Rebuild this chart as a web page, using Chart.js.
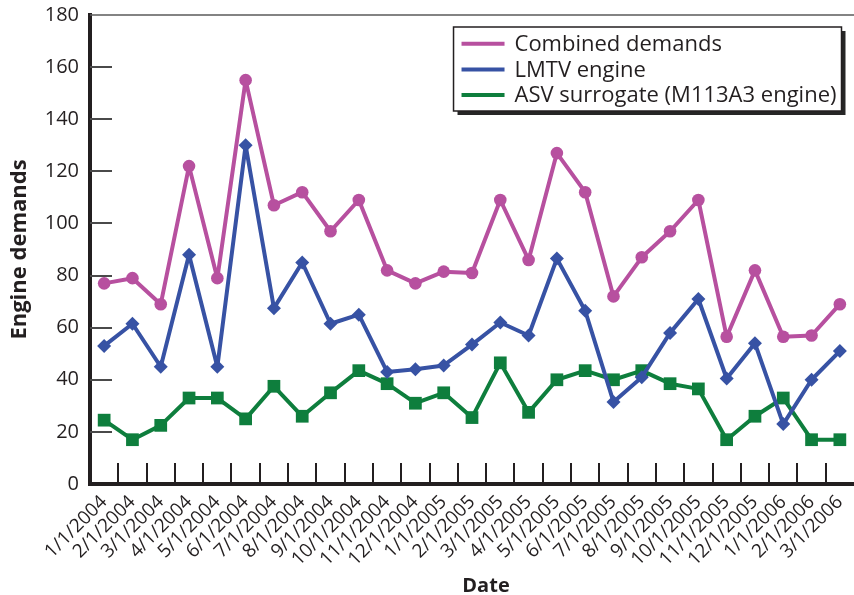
<!DOCTYPE html>
<html>
<head>
<meta charset="utf-8">
<script src="https://cdn.jsdelivr.net/npm/chart.js@4/dist/chart.umd.min.js"></script>
<style>
  html, body { margin: 0; padding: 0; background: #ffffff; }
  #wrap { width: 854px; height: 595px; }
</style>
</head>
<body>
<div id="wrap"><canvas id="chart" width="854" height="595"></canvas></div>
<script>
// Monthly engine demands, January 2004 through March 2006
const dates = [
  '1/1/2004', '2/1/2004', '3/1/2004', '4/1/2004', '5/1/2004', '6/1/2004',
  '7/1/2004', '8/1/2004', '9/1/2004', '10/1/2004', '11/1/2004', '12/1/2004',
  '1/1/2005', '2/1/2005', '3/1/2005', '4/1/2005', '5/1/2005', '6/1/2005',
  '7/1/2005', '8/1/2005', '9/1/2005', '10/1/2005', '11/1/2005', '12/1/2005',
  '1/1/2006', '2/1/2006', '3/1/2006'
];
const combinedDemands = [77, 79, 69, 122, 79, 155, 107, 112, 97, 109, 82, 77, 81.5, 81, 109, 86, 127, 112, 72, 87, 97, 109, 56.5, 82, 56.5, 57, 69];
const lmtvEngine = [53, 61.5, 45, 88, 45, 130, 67.5, 85, 61.5, 65, 43, 44, 45.5, 53.5, 62, 57, 86.5, 66.5, 31.5, 41, 58, 71, 40.5, 54, 23, 40, 51];
const asvSurrogate = [24.5, 17, 22.5, 33, 33, 25, 37.5, 26, 35, 43.5, 38.5, 31, 35, 25.5, 46.5, 27.5, 40, 43.5, 40, 43.5, 38.5, 36.5, 17, 26, 33, 17, 17];
const yTickValues = [0, 20, 40, 60, 80, 100, 120, 140, 160, 180];
const seriesNames = ['Combined demands', 'LMTV engine', 'ASV surrogate (M113A3 engine)'];

const INK = '#231F20';
const PINK = '#B7509F';
const BLUE = '#3752A4';
const GREEN = '#0E7E3D';
const FONT = '"Open Sans", "DejaVu Sans", sans-serif';

// Short tick marks pointing into the plot, plus the thin frame line on top
const frameMarks = {
  id: 'frameMarks',
  beforeDatasetsDraw(chart) {
    const { ctx, chartArea: a, scales: { x, y } } = chart;
    ctx.save();
    // top frame line
    ctx.strokeStyle = '#5a5a5a';
    ctx.lineWidth = 1.5;
    ctx.beginPath();
    ctx.moveTo(a.left, a.top);
    ctx.lineTo(a.right, a.top);
    ctx.stroke();
    // y ticks
    ctx.strokeStyle = '#4a4a4a';
    ctx.lineWidth = 2;
    y.ticks.forEach(t => {
      if (t.value <= y.min || t.value >= y.max) return;
      const py = Math.round(y.getPixelForValue(t.value));
      ctx.beginPath();
      ctx.moveTo(a.left, py);
      ctx.lineTo(a.left + 22, py);
      ctx.stroke();
    });
    // x ticks between categories
    ctx.strokeStyle = INK;
    ctx.lineWidth = 2;
    for (let i = 0; i < dates.length - 1; i++) {
      const px = Math.round((x.getPixelForValue(i) + x.getPixelForValue(i + 1)) / 2);
      ctx.beginPath();
      ctx.moveTo(px, a.bottom);
      ctx.lineTo(px, a.bottom - 21);
      ctx.stroke();
    }
    ctx.restore();
  }
};

// Boxed legend with drop shadow in the upper right of the plot
const boxedLegend = {
  id: 'boxedLegend',
  afterDatasetsDraw(chart) {
    const { ctx, chartArea: a } = chart;
    const sets = chart.data.datasets;
    ctx.save();
    ctx.font = '22px ' + FONT;
    const textW = Math.max(...sets.map(d => ctx.measureText(d.label).width));
    const padL = 8, sample = 43, gap = 10, padR = 5, rowH = 25.6, padTop = 16.8, padBottom = 16;
    const w = padL + sample + gap + textW + padR;
    const h = padTop + rowH * (sets.length - 1) + padBottom;
    const right = a.right - 12.5;
    const left = right - w;
    const top = a.top + 12;
    // shadow
    ctx.fillStyle = '#262626';
    ctx.fillRect(left + 4, top + 4, w, h);
    // box
    ctx.fillStyle = '#ffffff';
    ctx.fillRect(left, top, w, h);
    ctx.strokeStyle = INK;
    ctx.lineWidth = 1.5;
    ctx.strokeRect(left, top, w, h);
    sets.forEach((d, i) => {
      const cy = top + padTop + i * rowH;
      ctx.strokeStyle = d.borderColor;
      ctx.lineWidth = 4;
      ctx.beginPath();
      ctx.moveTo(left + padL, cy);
      ctx.lineTo(left + padL + sample, cy);
      ctx.stroke();
      ctx.fillStyle = INK;
      ctx.textAlign = 'left';
      ctx.textBaseline = 'middle';
      ctx.fillText(d.label, left + padL + sample + gap, cy + 1);
    });
    ctx.restore();
  }
};

// Horizontal axis title
const dateTitle = {
  id: 'dateTitle',
  afterDraw(chart) {
    const { ctx, chartArea: a } = chart;
    ctx.save();
    ctx.font = 'bold 20px ' + FONT;
    ctx.fillStyle = INK;
    ctx.textAlign = 'center';
    ctx.textBaseline = 'alphabetic';
    ctx.fillText('Date', (a.left + a.right) / 2 + 14, chart.height - 3);
    ctx.restore();
  }
};

const lineStyle = { borderWidth: 4, pointBorderWidth: 0, tension: 0, borderJoinStyle: 'round', borderCapStyle: 'round' };

new Chart(document.getElementById('chart'), {
  type: 'line',
  data: {
    labels: dates,
    datasets: [
      Object.assign({
        label: seriesNames[0], data: combinedDemands,
        borderColor: PINK, backgroundColor: PINK,
        pointStyle: 'circle', pointRadius: 6.3
      }, lineStyle),
      Object.assign({
        label: seriesNames[1], data: lmtvEngine,
        borderColor: BLUE, backgroundColor: BLUE,
        pointStyle: 'rectRot', pointRadius: 7
      }, lineStyle),
      Object.assign({
        label: seriesNames[2], data: asvSurrogate,
        borderColor: GREEN, backgroundColor: GREEN,
        pointStyle: 'rect', pointRadius: 9
      }, lineStyle)
    ]
  },
  options: {
    responsive: false,
    animation: false,
    layout: { autoPadding: false, padding: { top: 15, right: 0, left: 0, bottom: 0 } },
    plugins: { legend: { display: false }, tooltip: { enabled: false } },
    scales: {
      x: {
        type: 'category',
        offset: true,
        grid: { display: false, drawTicks: false },
        border: { display: true, width: 4, color: INK },
        ticks: {
          autoSkip: false, minRotation: 45, maxRotation: 45, padding: 7,
          color: INK, font: { family: FONT, size: 19 }
        },
        afterFit(s) { s.height = 111; s.paddingLeft = 0; s.paddingRight = 0; }
      },
      y: {
        min: 0, max: 180,
        grid: { display: false, drawTicks: false },
        border: { display: true, width: 4, color: INK },
        afterBuildTicks(s) { s.ticks = yTickValues.map(v => ({ value: v })); },
        ticks: { padding: 11, color: INK, font: { family: FONT, size: 20 } },
        title: {
          display: true, text: 'Engine demands', color: INK,
          font: { family: FONT, size: 22, weight: 'bold' },
          padding: { top: 7, bottom: 0 }
        },
        afterFit(s) { s.width = 90; s.paddingTop = 0; s.paddingBottom = 0; }
      }
    }
  },
  plugins: [frameMarks, boxedLegend, dateTitle]
});
</script>
</body>
</html>
